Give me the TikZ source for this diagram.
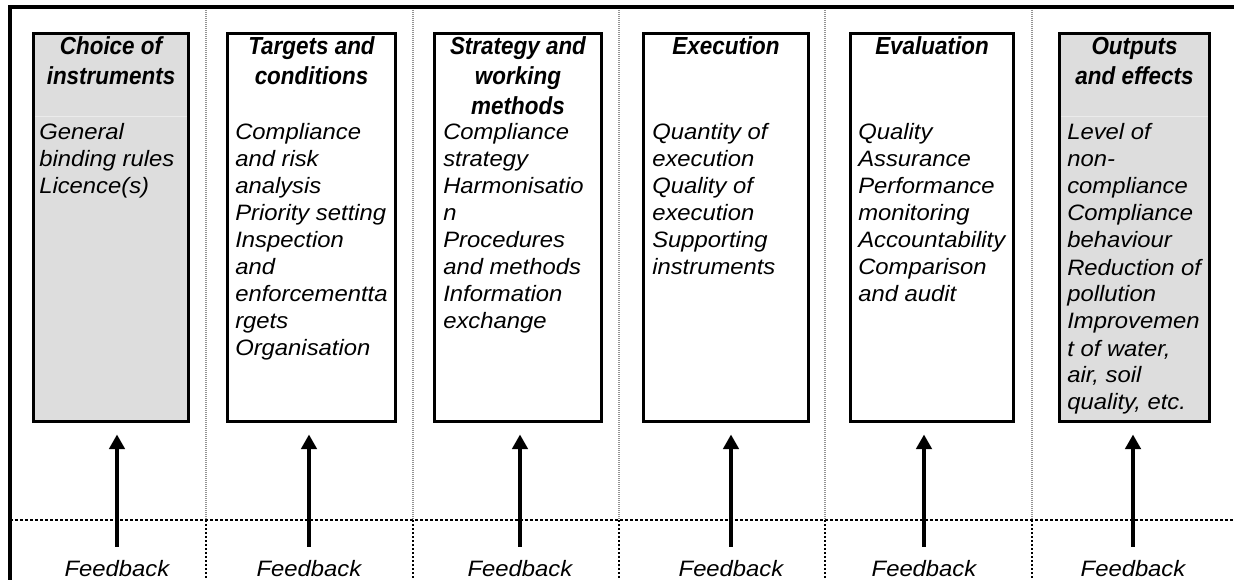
\documentclass[tikz,border=0pt]{standalone}
\usepackage{fontspec}
\setmainfont{Liberation Sans}
\newfontfamily\bodyfont{Liberation Sans}[FakeStretch=1.07]
\newfontfamily\titlefont{Liberation Sans}[FakeStretch=0.91]
\usetikzlibrary{arrows.meta}
\definecolor{boxgray}{RGB}{221,221,221}
\begin{document}
\begin{tikzpicture}[x=0.75pt,y=-0.75pt,
  stage/.style={draw,line width=2.25pt,minimum height=291pt,inner sep=0pt},
  title/.style={anchor=base,align=center,inner sep=0pt,font=\titlefont\bfseries\itshape\fontsize{18.5}{22.5}\selectfont},
  body/.style={anchor=base west,align=left,inner sep=0pt,font=\bodyfont\itshape\fontsize{16.7}{20.25}\selectfont},
  fb/.style={anchor=base,inner sep=0pt,font=\bodyfont\itshape\fontsize{16.7}{20.25}\selectfont},
  fbarrow/.style={line width=3pt,-{Triangle[length=11pt,width=11.5pt]},shorten <=9.75pt,shorten >=8.6pt},
  sep/.style={gray!85,line width=1.5pt,dash pattern=on 0.75pt off 0.75pt},
  sepdash/.style={black,line width=1.5pt,dash pattern=on 1.5pt off 1.5pt},
  hline/.style={black,line width=0.9pt,dash pattern=on 2.25pt off 1.5pt}]
\useasboundingbox (0,0) rectangle (1234,580);
\draw[line width=3pt] (10,580) -- (10,7) -- (1234,7);
\foreach \x in {206,413,619,825,1032}{
  \draw[sep] (\x,10) -- (\x,520);
  \draw[sepdash] (\x,520) -- (\x,580);
}
\draw[hline] (10,520) -- (1234,520);

\node[stage,fill=boxgray,minimum width=116.25pt] (box1) at (111,227.5) {};
\node[stage,minimum width=126pt] (box2) at (311.5,227.5) {};
\node[stage,minimum width=125.25pt] (box3) at (518,227.5) {};
\node[stage,minimum width=123.75pt] (box4) at (726,227.5) {};
\node[stage,minimum width=122.25pt] (box5) at (932,227.5) {};
\node[stage,fill=boxgray,minimum width=112.5pt] (box6) at (1134.5,227.5) {};
\draw[white!40!boxgray,line width=0.75pt] (35,117) -- (187,117);
\draw[white!40!boxgray,line width=0.75pt] (1061,117) -- (1208,117);

% base anchor sits on the last line
\node[title] (t1) at (111,85) {Choice of\\instruments};
\node[title] (t2) at (311.5,85) {Targets and\\conditions};
\node[title] (t3) at (518,115) {Strategy and\\working\\methods};
\node[title] (t4) at (726,55) {Execution};
\node[title] (t5) at (932,55) {Evaluation};
\node[title] (t6) at (1134.5,85) {Outputs\\and effects};

\node[body] (b1) at (39,194) {General\\binding rules\\Licence(s)};
\node[body] (b2) at (235,356) {Compliance\\and risk\\analysis\\Priority setting\\Inspection\\and\\enforcementta\\rgets\\Organisation};
\node[body] (b3) at (443,329) {Compliance\\strategy\\Harmonisatio\\n\\Procedures\\and methods\\Information\\exchange};
\node[body] (b4) at (652,275) {Quantity of\\execution\\Quality of\\execution\\Supporting\\instruments};
\node[body] (b5) at (858,302) {Quality\\Assurance\\Performance\\monitoring\\Accountability\\Comparison\\and audit};
\node[body] (b6) at (1067,410) {Level of\\non-\\compliance\\Compliance\\behaviour\\Reduction of\\pollution\\Improvemen\\t of water,\\air, soil\\quality, etc.};

\foreach \i/\x in {1/117,2/309,3/520,4/731,5/924,6/1133}{
  \node[fb] (fb\i) at (\x,576) {Feedback};
  \draw[fbarrow] (fb\i.north) -- (fb\i.north |- box\i.south);
}
\end{tikzpicture}
\end{document}
